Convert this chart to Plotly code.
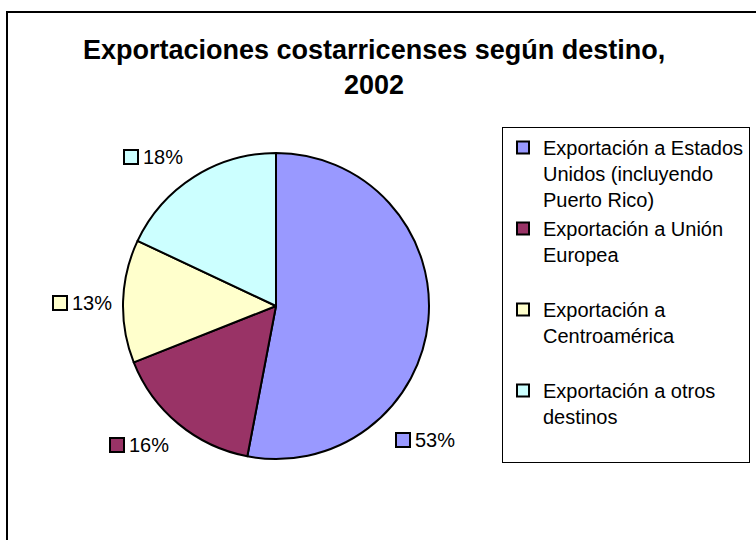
import plotly.graph_objects as go

# ---- data ----
categories = [
    "Exportación a Estados<br>Unidos (incluyendo<br>Puerto Rico)",
    "Exportación a Unión<br>Europea<br>\u00a0",
    "Exportación a<br>Centroamérica<br>\u00a0",
    "Exportación a otros<br>destinos<br>\u00a0",
]
values = [53, 16, 13, 18]
colors = ["#9999FF", "#993366", "#FFFFCC", "#CCFFFF"]
title_lines = ["Exportaciones costarricenses según destino,", "2002"]

# ---- layout constants (pixels) ----
W, H = 756, 540
FONT = "Liberation Sans, Arial, sans-serif"
pie_cx, pie_cy, pie_r = 276, 306, 153
# label anchor (left edge of key square, vertical center) per slice
label_pos = [(396, 440), (110, 445), (53, 303), (124, 157)]
key = 14

def px(x):
    return x / W

def py(y):
    return 1 - y / H

fig = go.Figure()
fig.add_trace(go.Pie(
    labels=categories,
    values=values,
    sort=False,
    direction="clockwise",
    rotation=0,
    marker=dict(colors=colors, line=dict(color="black", width=2)),
    textinfo="none",
    hoverinfo="label+percent",
    domain=dict(x=[px(pie_cx - pie_r), px(pie_cx + pie_r)],
                y=[py(pie_cy + pie_r), py(pie_cy - pie_r)]),
))

total = sum(values)
annotations = []
shapes = []
for v, c, (lx, ly) in zip(values, colors, label_pos):
    shapes.append(dict(type="rect", xref="paper", yref="paper",
                       x0=px(lx), x1=px(lx + key),
                       y0=py(ly + key / 2), y1=py(ly - key / 2),
                       fillcolor=c, line=dict(color="black", width=2)))
    annotations.append(dict(x=px(lx + key + 3), y=py(ly), xref="paper", yref="paper",
                            xanchor="left", yanchor="middle", showarrow=False,
                            text=f"{round(100 * v / total)}%",
                            font=dict(family=FONT, size=20, color="black")))

annotations.append(dict(x=px(374), y=py(68), xref="paper", yref="paper",
                        xanchor="center", yanchor="middle", showarrow=False,
                        text="<b>" + "<br>".join(title_lines) + "</b>",
                        font=dict(family=FONT, size=27, color="black")))

# chart area border (left and top edges visible)
shapes.append(dict(type="rect", xref="paper", yref="paper",
                   x0=px(7), x1=1.05, y0=-0.05, y1=py(12),
                   line=dict(color="black", width=2), fillcolor="rgba(0,0,0,0)",
                   layer="below"))

fig.update_layout(
    width=W, height=H,
    margin=dict(l=0, r=0, t=0, b=0),
    paper_bgcolor="white", plot_bgcolor="white",
    showlegend=True,
    legend=dict(x=px(502), y=py(127), xanchor="left", yanchor="top",
                bordercolor="black", borderwidth=1, bgcolor="white",
                font=dict(family=FONT, size=20, color="black"),
                traceorder="normal", valign="top"),
    annotations=annotations,
    shapes=shapes,
)

fig.write_html("out.html", config={"displayModeBar": False},
               post_script="document.body.style.margin='0px';")
